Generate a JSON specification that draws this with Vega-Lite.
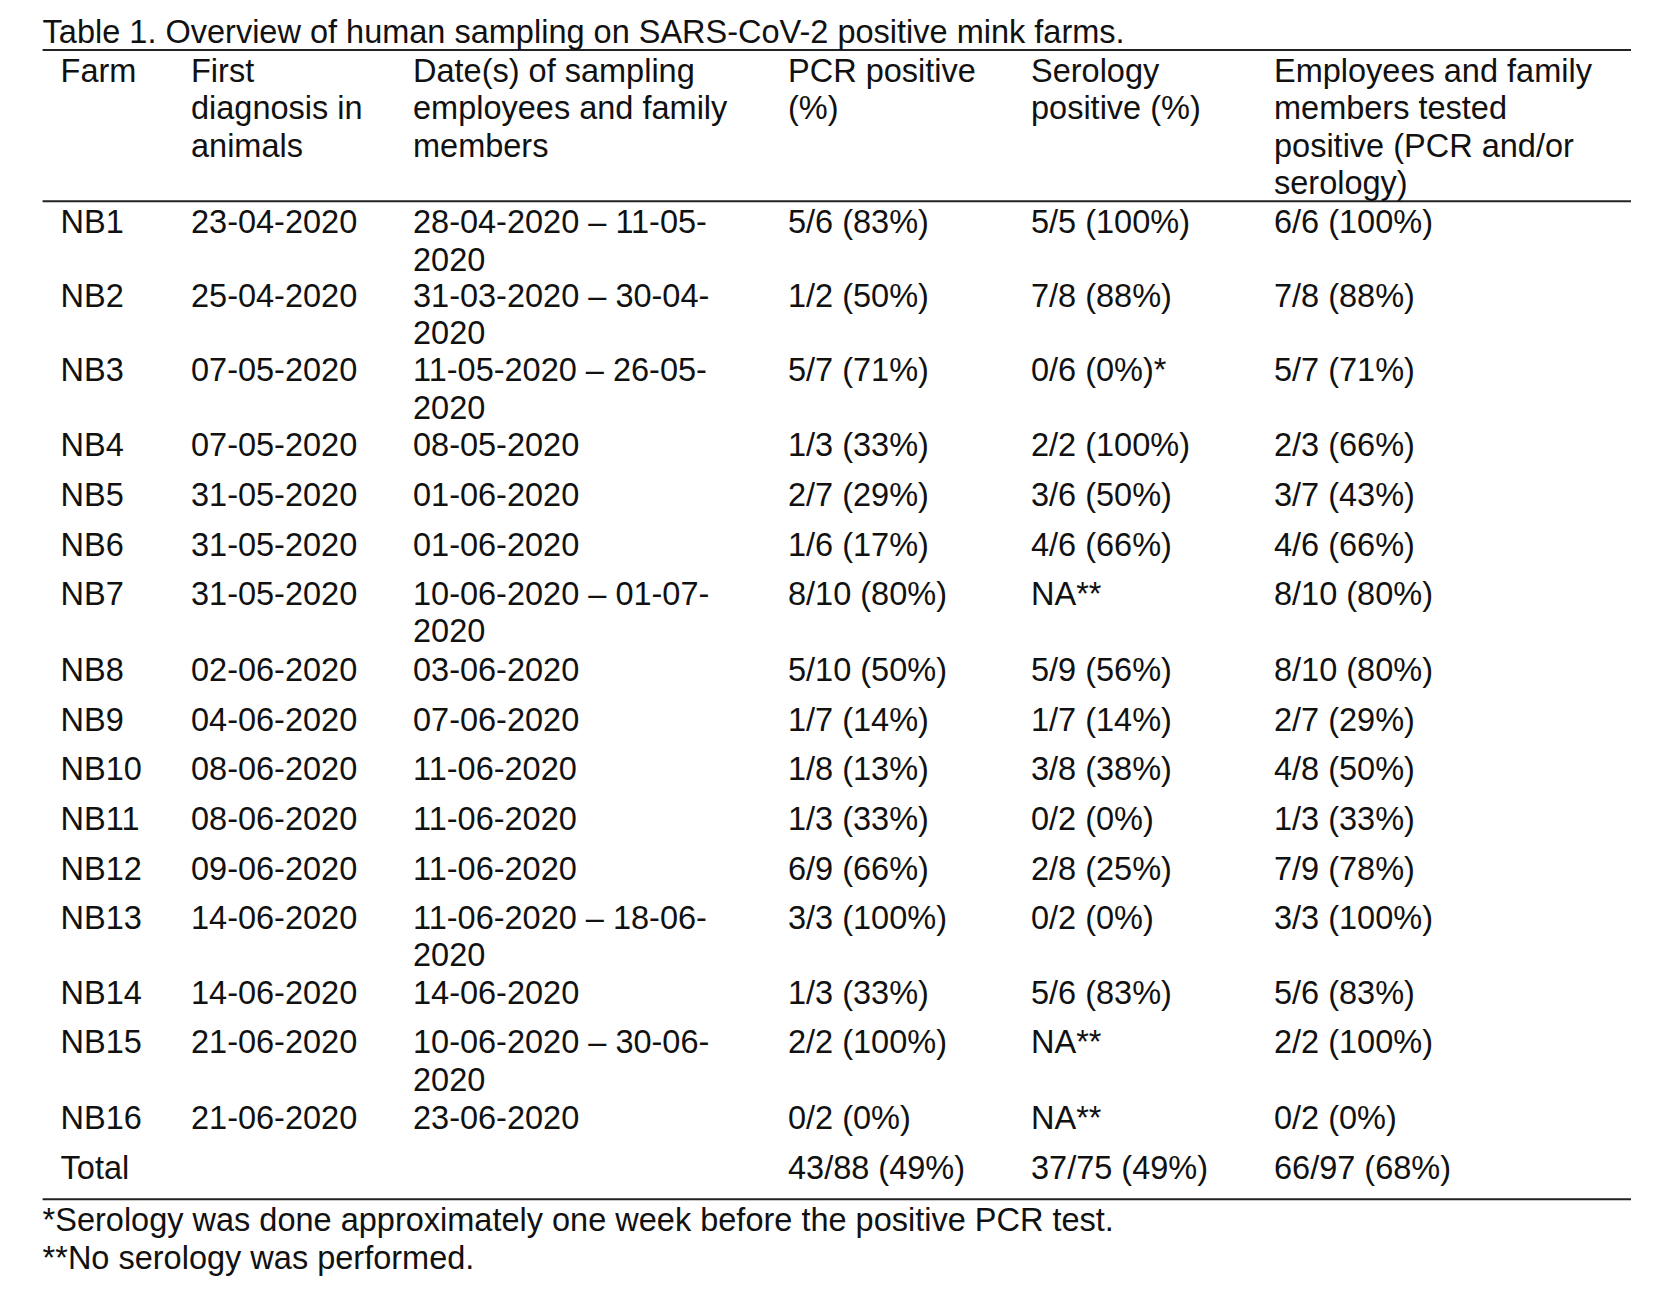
{
  "$schema": "https://vega.github.io/schema/vega-lite/v6.json",
  "width": 1670,
  "height": 1304,
  "autosize": {"type": "fit", "contains": "padding"},
  "padding": 0,
  "background": "white",
  "config": {"view": {"stroke": null}, "text": {"font": "Liberation Sans", "fontSize": 32.5, "color": "#111111", "align": "left", "baseline": "alphabetic", "lineBreak": "\n", "lineHeight": 37.3}},
  "datasets": {
    "rows": [
      {"r": 1, "farm": "Farm", "first": "First\ndiagnosis in\nanimals", "dates": "Date(s) of sampling\nemployees and family\nmembers", "pcr": "PCR positive\n(%)", "sero": "Serology\npositive (%)", "emp": "Employees and family\nmembers tested\npositive (PCR and/or\nserology)"},
      {"r": 2, "farm": "NB1", "first": "23-04-2020", "dates": "28-04-2020 – 11-05-\n2020", "pcr": "5/6 (83%)", "sero": "5/5 (100%)", "emp": "6/6 (100%)"},
      {"r": 3, "farm": "NB2", "first": "25-04-2020", "dates": "31-03-2020 – 30-04-\n2020", "pcr": "1/2 (50%)", "sero": "7/8 (88%)", "emp": "7/8 (88%)"},
      {"r": 4, "farm": "NB3", "first": "07-05-2020", "dates": "11-05-2020 – 26-05-\n2020", "pcr": "5/7 (71%)", "sero": "0/6 (0%)*", "emp": "5/7 (71%)"},
      {"r": 5, "farm": "NB4", "first": "07-05-2020", "dates": "08-05-2020", "pcr": "1/3 (33%)", "sero": "2/2 (100%)", "emp": "2/3 (66%)"},
      {"r": 6, "farm": "NB5", "first": "31-05-2020", "dates": "01-06-2020", "pcr": "2/7 (29%)", "sero": "3/6 (50%)", "emp": "3/7 (43%)"},
      {"r": 7, "farm": "NB6", "first": "31-05-2020", "dates": "01-06-2020", "pcr": "1/6 (17%)", "sero": "4/6 (66%)", "emp": "4/6 (66%)"},
      {"r": 8, "farm": "NB7", "first": "31-05-2020", "dates": "10-06-2020 – 01-07-\n2020", "pcr": "8/10 (80%)", "sero": "NA**", "emp": "8/10 (80%)"},
      {"r": 9, "farm": "NB8", "first": "02-06-2020", "dates": "03-06-2020", "pcr": "5/10 (50%)", "sero": "5/9 (56%)", "emp": "8/10 (80%)"},
      {"r": 10, "farm": "NB9", "first": "04-06-2020", "dates": "07-06-2020", "pcr": "1/7 (14%)", "sero": "1/7 (14%)", "emp": "2/7 (29%)"},
      {"r": 11, "farm": "NB10", "first": "08-06-2020", "dates": "11-06-2020", "pcr": "1/8 (13%)", "sero": "3/8 (38%)", "emp": "4/8 (50%)"},
      {"r": 12, "farm": "NB11", "first": "08-06-2020", "dates": "11-06-2020", "pcr": "1/3 (33%)", "sero": "0/2 (0%)", "emp": "1/3 (33%)"},
      {"r": 13, "farm": "NB12", "first": "09-06-2020", "dates": "11-06-2020", "pcr": "6/9 (66%)", "sero": "2/8 (25%)", "emp": "7/9 (78%)"},
      {"r": 14, "farm": "NB13", "first": "14-06-2020", "dates": "11-06-2020 – 18-06-\n2020", "pcr": "3/3 (100%)", "sero": "0/2 (0%)", "emp": "3/3 (100%)"},
      {"r": 15, "farm": "NB14", "first": "14-06-2020", "dates": "14-06-2020", "pcr": "1/3 (33%)", "sero": "5/6 (83%)", "emp": "5/6 (83%)"},
      {"r": 16, "farm": "NB15", "first": "21-06-2020", "dates": "10-06-2020 – 30-06-\n2020", "pcr": "2/2 (100%)", "sero": "NA**", "emp": "2/2 (100%)"},
      {"r": 17, "farm": "NB16", "first": "21-06-2020", "dates": "23-06-2020", "pcr": "0/2 (0%)", "sero": "NA**", "emp": "0/2 (0%)"},
      {"r": 18, "farm": "Total", "first": "", "dates": "", "pcr": "43/88 (49%)", "sero": "37/75 (49%)", "emp": "66/97 (68%)"}
    ],
    "notes": [
      {"r": 0, "note": "Table 1. Overview of human sampling on SARS-CoV-2 positive mink farms."},
      {"r": 19, "note": "*Serology was done approximately one week before the positive PCR test.\n**No serology was performed."}
    ],
    "rules": [{"r": 1}, {"r": 2}, {"r": 19}]
  },
  "encoding": {
    "y": {"field": "r", "type": "quantitative", "axis": null,
      "scale": {"domain": [0,1,2,3,4,5,6,7,8,9,10,11,12,13,14,15,16,17,18,19],
                "range": [10.5,50,201.3,274.8,349.4,423.9,474.0,524.0,573.0,648.7,698.7,747.7,797.8,847.8,896.8,972.4,1021.4,1097.1,1147.1,1199.3],
                "nice": false, "zero": false}}
  },
  "layer": [
    {"data": {"name": "rules"}, "mark": {"type": "rule", "color": "#222222", "strokeWidth": 2},
     "encoding": {"x": {"datum": 0, "type": "quantitative", "axis": null,
        "scale": {"domain": [0,1,2,3,4,5,6], "range": [42.6,172,395,770,1012,1255,1631], "nice": false, "zero": false}},
       "x2": {"datum": 6}}},
    {"data": {"name": "notes"}, "mark": {"type": "text", "dy": 32},
     "encoding": {"x": {"datum": 0, "type": "quantitative"}, "text": {"field": "note"}}},
    {"data": {"name": "rows"}, "mark": {"type": "text", "dy": 32, "dx": 18},
     "encoding": {"x": {"datum": 0, "type": "quantitative"}, "text": {"field": "farm"}}},
    {"data": {"name": "rows"}, "mark": {"type": "text", "dy": 32, "dx": 19},
     "encoding": {"x": {"datum": 1, "type": "quantitative"}, "text": {"field": "first"}}},
    {"data": {"name": "rows"}, "mark": {"type": "text", "dy": 32, "dx": 18},
     "encoding": {"x": {"datum": 2, "type": "quantitative"}, "text": {"field": "dates"}}},
    {"data": {"name": "rows"}, "mark": {"type": "text", "dy": 32, "dx": 18},
     "encoding": {"x": {"datum": 3, "type": "quantitative"}, "text": {"field": "pcr"}}},
    {"data": {"name": "rows"}, "mark": {"type": "text", "dy": 32, "dx": 19},
     "encoding": {"x": {"datum": 4, "type": "quantitative"}, "text": {"field": "sero"}}},
    {"data": {"name": "rows"}, "mark": {"type": "text", "dy": 32, "dx": 19},
     "encoding": {"x": {"datum": 5, "type": "quantitative"}, "text": {"field": "emp"}}}
  ]
}
